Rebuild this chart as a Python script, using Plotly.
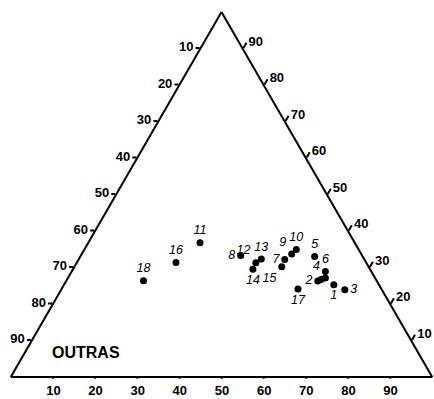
import plotly.graph_objects as go

labels = ["1", "2", "3", "4", "5", "6", "7", "8", "9", "10", "11", "12", "13", "14", "15", "16", "17", "18", ""]
# top vertex component (read on right edge)
comp_top = [25.3, 26.3, 23.9, 27.1, 33.0, 28.9, 32.2, 33.3, 33.7, 34.9, 36.8, 31.3, 32.3, 29.5, 30.2, 31.4, 24.1, 26.4, 26.7]
# bottom-left vertex component (read on left edge)
comp_left = [10.7, 14.0, 8.8, 11.8, 11.4, 10.9, 18.9, 28.8, 16.5, 14.8, 36.7, 26.2, 24.4, 27.8, 20.6, 45.1, 19.8, 55.3, 13.0]
# bottom-right vertex component (read on bottom edge)
comp_right = [64.0, 59.7, 67.3, 61.1, 55.6, 60.2, 48.9, 37.9, 49.8, 50.3, 26.5, 42.5, 43.3, 42.7, 49.2, 23.5, 56.1, 18.3, 60.3]
label_pos = ["bottom center", "middle left", "middle right", "top left", "top center", "top center",
             "middle left", "middle left", "top left", "top center", "top center", "top left",
             "top center", "bottom center", "bottom left", "top center", "bottom center", "top center", "top center"]

tick_vals = [10, 20, 30, 40, 50, 60, 70, 80, 90]
tick_text = [str(100 - v) for v in tick_vals]
corner_label = "OUTRAS"

fig = go.Figure()
fig.add_trace(go.Scatterternary(
    a=comp_top, b=comp_left, c=comp_right,
    mode="markers+text",
    text=labels,
    textposition=label_pos,
    textfont=dict(family="Liberation Sans", size=12.5, color="black", style="italic"),
    marker=dict(size=7, color="black"),
    cliponaxis=False,
    hoverinfo="skip",
))

def axis(ticklen):
    return dict(
        showgrid=False,
        linecolor="black",
        linewidth=2,
        ticks="outside",
        ticklen=ticklen,
        tickwidth=1.5,
        tickcolor="black",
        tickvals=tick_vals,
        ticktext=tick_text,
        tickfont=dict(family="Liberation Sans", size=13, color="black", weight="bold"),
        title=dict(text=""),
        min=0,
    )

fig.update_layout(
    width=434, height=399,
    margin=dict(l=10, r=1, t=12, b=22),
    paper_bgcolor="white",
    showlegend=False,
    ternary=dict(
        sum=100,
        bgcolor="white",
        aaxis=axis(4),
        baxis=axis(1),
        caxis=axis(6),
    ),
    annotations=[dict(
        text="<b>" + corner_label + "</b>",
        xref="paper", yref="paper",
        x=0.18, y=0.068,
        xanchor="center", yanchor="middle",
        showarrow=False,
        font=dict(family="Liberation Sans", size=16, color="black"),
    )],
)

fig.write_html("out.html")
